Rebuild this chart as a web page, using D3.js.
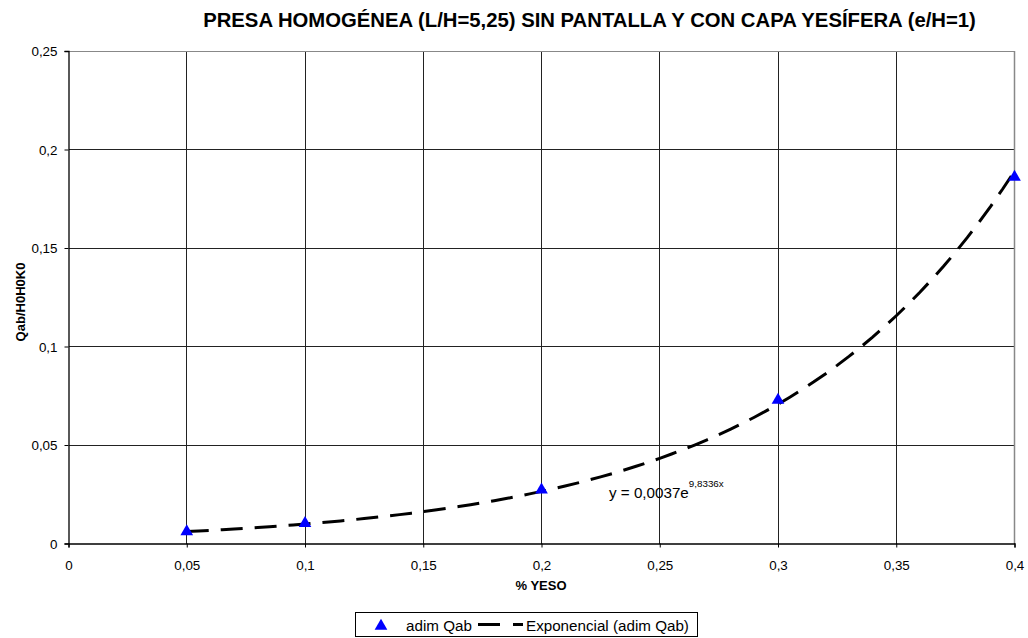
<!DOCTYPE html>
<html><head><meta charset="utf-8">
<script src="https://cdn.jsdelivr.net/npm/d3@7"></script>
<style>body{margin:0;background:#fff}svg{font-family:"Liberation Sans",Arial,sans-serif}</style>
</head><body>
<svg id="c" width="1028" height="638"></svg>
<script>
const xValues = [0.05, 0.1, 0.2, 0.3, 0.4];
const yValues = [0.006, 0.0102, 0.0272, 0.0728, 0.186];
const xTicks = [0, 0.05, 0.1, 0.15, 0.2, 0.25, 0.3, 0.35, 0.4];
const yTicks = [0, 0.05, 0.1, 0.15, 0.2, 0.25];
const fitA = 0.0037, fitB = 9.8336;
const title = "PRESA HOMOGÉNEA (L/H=5,25) SIN PANTALLA Y CON CAPA YESÍFERA (e/H=1)";

const svg = d3.select("#c");
const L = 68.5, R = 1014.5, T = 51, B = 543.5;
const x = d3.scaleLinear().domain([0, 0.4]).range([L, R]);
const y = d3.scaleLinear().domain([0, 0.25]).range([B, T]);
const fmt = d => String(d).replace(".", ",");
const FF = '"Liberation Sans",Arial,sans-serif';

// grid
svg.append("g").selectAll("line").data(yTicks.slice(1)).join("line")
  .attr("x1", L).attr("x2", R).attr("y1", d => y(d)).attr("y2", d => y(d))
  .attr("stroke", "#222").attr("stroke-width", 1).attr("shape-rendering","crispEdges");
svg.append("g").selectAll("line").data(xTicks.slice(1)).join("line")
  .attr("y1", T).attr("y2", B).attr("x1", d => x(d)).attr("x2", d => x(d))
  .attr("stroke", "#222").attr("stroke-width", 1).attr("shape-rendering","crispEdges");
svg.append("line").attr("x1", L).attr("x2", R).attr("y1", T).attr("y2", T).attr("stroke","#888").attr("shape-rendering","crispEdges");
svg.append("line").attr("x1", R).attr("x2", R).attr("y1", T).attr("y2", B).attr("stroke","#888").attr("stroke-width",1.5);

// axes
const xAxis = d3.axisBottom(x).tickValues(xTicks).tickFormat(fmt).tickSize(4).tickPadding(12.5);
const yAxis = d3.axisLeft(y).tickValues(yTicks).tickFormat(fmt).tickSize(4).tickPadding(7);
const gx = svg.append("g").attr("transform", `translate(0,${B})`).call(xAxis);
const gy = svg.append("g").attr("transform", `translate(${L},0)`).call(yAxis);
[gx, gy].forEach(g => {
  g.select(".domain").attr("stroke", "#000").attr("stroke-width", 1.3);
  g.selectAll(".tick line").attr("stroke", "#000");
  g.selectAll("text").attr("font-size", 13.4).attr("fill", "#000").attr("font-family", FF);
});
gy.selectAll(".tick text").attr("dy", "0.35em");

// trendline from fit coefficients
const xs = d3.range(0.05, 0.4001, 0.005);
const line = d3.line().x(d => x(d)).y(d => y(fitA * Math.exp(fitB * d)));
svg.append("path").datum(xs).attr("d", line).attr("fill", "none")
  .attr("stroke", "#000").attr("stroke-width", 3).attr("stroke-dasharray", "22,12");

// markers
const tri = d3.symbol().type(d3.symbolTriangle).size(70);
svg.append("g").selectAll("path").data(xValues).join("path")
  .attr("d", tri).attr("fill", "#0000ff")
  .attr("transform", (d, i) => `translate(${x(d)},${y(yValues[i])})`);

// equation label
const eq = svg.append("text").attr("x", 609).attr("y", 497.5).attr("font-size", 15.2).attr("fill", "#000");
eq.append("tspan").text("y = 0,0037e");
eq.append("tspan").attr("dy", -11).attr("font-size", 9.8).text("9,8336x");

// title
svg.append("text").attr("x", 589.5).attr("y", 27).attr("text-anchor", "middle")
  .attr("font-size", 20.3).attr("font-weight", "bold").text(title);
// axis titles
svg.append("text").attr("x", 541).attr("y", 590).attr("text-anchor", "middle")
  .attr("font-size", 13).attr("font-weight", "bold").text("% YESO");
svg.append("text").attr("transform", "translate(25,302) rotate(-90)").attr("text-anchor", "middle")
  .attr("font-size", 13).attr("font-weight", "bold").text("Qab/H0H0K0");

// legend
const lg = svg.append("g");
lg.append("rect").attr("x", 355.5).attr("y", 612.5).attr("width", 342).attr("height", 24)
  .attr("fill", "#fff").attr("stroke", "#000");
lg.append("path").attr("d", tri).attr("fill", "#0000ff").attr("transform", "translate(381,626)");
lg.append("text").attr("x", 406).attr("y", 631).attr("font-size", 15.2).text("adim Qab");
lg.append("line").attr("x1", 478).attr("x2", 523).attr("y1", 624.5).attr("y2", 624.5)
  .attr("stroke", "#000").attr("stroke-width", 3).attr("stroke-dasharray", "22,13");
lg.append("text").attr("x", 526).attr("y", 631).attr("font-size", 15.2).text("Exponencial (adim Qab)");
</script>
</body></html>
